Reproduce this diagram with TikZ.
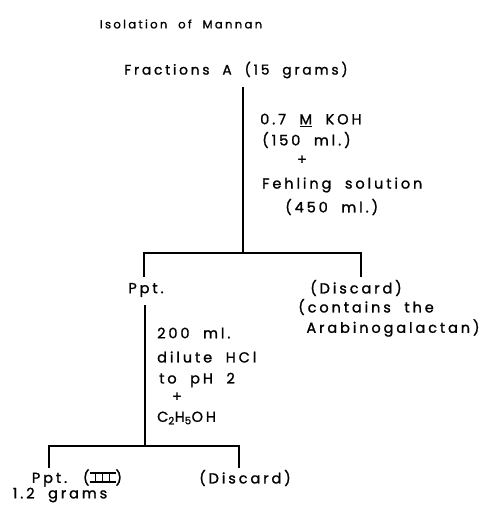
\documentclass[tikz,border=0pt]{standalone}
\usepackage{fontspec}
\setmainfont{Poppins}[LetterSpace=20,WordSpace=2,FakeBold=1.2]
\newcommand\romthree{\leavevmode\vbox{\hrule height 1.5pt\hbox to 26pt{\hss\vrule width 1.5pt height 7.5pt\hss\vrule width 1.5pt\hss\vrule width 1.5pt\hss}\hrule height 1.5pt}}
\begin{document}
\begin{tikzpicture}[x=1pt,y=-1pt,
  lbl/.style={inner sep=0pt,font=\fontsize{14.5}{16}\selectfont},
  ttl/.style={inner sep=0pt,font=\fontsize{11.6}{14}\selectfont},
  ln/.style={line width=1.6pt}]
\useasboundingbox (0,0) rectangle (486,508);
% title and start
\node[ttl] (title) at (181,24) {Isolation of Mannan};
\node[lbl,font=\fontsize{13.8}{16}\selectfont] (fracA) at (236,70) {Fractions A (15 grams)};
\coordinate (j1) at (243,253);
\draw[ln] (243,87) -- (j1);
\coordinate (l1) at (144,253);
\coordinate (r1) at (361,253);
\draw[ln] (144,277) -- (l1) -- (r1) -- (361,277);
% reagents 1
\node[lbl,anchor=west] (k1) at (260,120) {0.7 \underline{M} KOH};
\node[lbl,anchor=west] (k2) at (262,140) {(150 ml.)};
\node[lbl] (k3) at (302,160) {+};
\node[lbl,anchor=west] (k4) at (262,185) {Fehling solution};
\node[lbl,anchor=west] (k5) at (285,207) {(450 ml.)};
% second level
\node[lbl] (ppt) at (146,290) {Ppt.};
\node[lbl] (disc1) at (356,288) {(Discard)};
\node[lbl] (cont) at (366,307) {(contains the};
\node[lbl] (arab) at (393,328) {Arabinogalactan)};
\coordinate (j2) at (145,446);
\draw[ln] (145,305) -- (j2);
\draw[ln] (49,468) -- (49,446) -- (239,446) -- (239,468);
% reagents 2
\node[lbl,anchor=west] (h1) at (157,333) {200 ml.};
\node[lbl,anchor=west] (h2) at (157,357) {dilute HCl};
\node[lbl,anchor=west] (h3) at (159,380) {to pH 2};
\node[lbl] (h4) at (177,397) {+};
\node[lbl,anchor=west] (h5) at (157,418) {C\textsubscript{2}H\textsubscript{5}OH};
% bottom
\node[lbl] (ppt3) at (77,478) {Ppt. (\romthree)};
\node[lbl] (grams) at (60,495) {1.2 grams};
\node[lbl] (disc2) at (245,478) {(Discard)};
\end{tikzpicture}
\end{document}
